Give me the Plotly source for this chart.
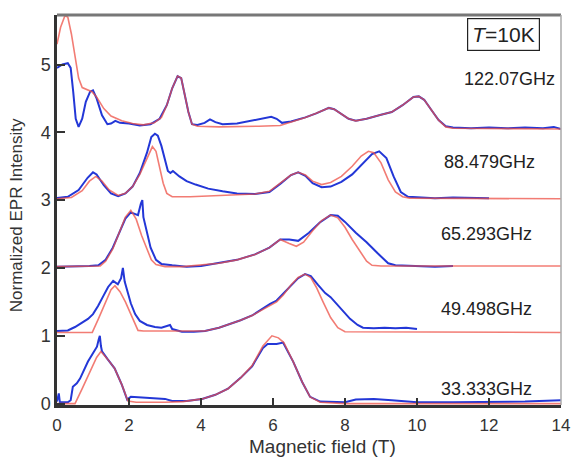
import plotly.graph_objects as go

# ---------------- data ----------------
x_b122 = [0.0,0.15,0.3,0.38,0.45,0.52,0.6,0.7,0.8,0.92,1.0,1.1,1.25,1.4,1.5,1.62,1.75,2.0,2.3,2.6,2.85,3.05,3.2,3.35,3.45,3.55,3.65,3.75,3.9,4.1,4.25,4.4,4.6,5.0,5.4,5.7,5.95,6.1,6.25,6.5,6.9,7.2,7.55,7.7,7.9,8.1,8.3,8.6,9.0,9.3,9.6,9.9,10.05,10.2,10.4,10.6,10.8,11.0,11.5,12.0,12.5,13.0,13.5,13.8,14.0]
y_b122 = [4.95,5.0,5.02,4.95,4.6,4.2,4.08,4.2,4.45,4.6,4.62,4.5,4.25,4.12,4.13,4.17,4.14,4.13,4.1,4.12,4.2,4.4,4.65,4.83,4.8,4.55,4.3,4.12,4.11,4.14,4.19,4.15,4.12,4.13,4.17,4.21,4.23,4.2,4.14,4.16,4.22,4.28,4.36,4.34,4.27,4.2,4.17,4.2,4.26,4.3,4.4,4.52,4.53,4.48,4.33,4.18,4.09,4.07,4.06,4.07,4.06,4.07,4.06,4.08,4.05]
x_r122 = [0.0,0.1,0.22,0.3,0.4,0.5,0.6,0.7,0.85,0.97,1.1,1.3,1.5,1.8,2.1,2.4,2.7,2.9,3.05,3.2,3.35,3.45,3.55,3.65,3.75,3.9,4.5,5.0,5.6,6.2,6.5,6.9,7.2,7.55,7.7,7.9,8.1,8.3,8.6,9.0,9.3,9.6,9.9,10.05,10.2,10.4,10.6,10.8,11.0,14.0]
y_r122 = [5.3,5.55,5.72,5.7,5.45,5.1,4.8,4.66,4.62,4.6,4.52,4.35,4.24,4.17,4.13,4.11,4.14,4.22,4.4,4.65,4.83,4.8,4.55,4.3,4.12,4.09,4.08,4.08,4.09,4.1,4.15,4.22,4.28,4.36,4.34,4.27,4.2,4.17,4.2,4.26,4.3,4.4,4.52,4.53,4.48,4.33,4.18,4.08,4.06,4.05]

x_b88 = [0.0,0.3,0.6,0.85,1.0,1.1,1.3,1.5,1.7,1.9,2.1,2.3,2.5,2.62,2.72,2.8,2.9,3.0,3.08,3.15,3.22,3.4,3.6,3.85,4.2,4.6,5.0,5.5,5.9,6.2,6.5,6.7,6.9,7.1,7.35,7.6,7.9,8.2,8.5,8.75,8.95,9.15,9.35,9.55,9.75,10.0,10.5,11.0,11.5,12.0]
y_b88 = [3.03,3.05,3.15,3.33,3.41,3.38,3.22,3.1,3.06,3.1,3.2,3.4,3.7,3.93,3.98,3.95,3.8,3.6,3.43,3.4,3.43,3.35,3.28,3.23,3.17,3.13,3.1,3.09,3.12,3.24,3.37,3.41,3.36,3.25,3.19,3.2,3.27,3.38,3.55,3.68,3.72,3.62,3.35,3.12,3.05,3.04,3.03,3.04,3.03,3.03]
x_r88 = [0.0,0.4,0.7,0.9,1.08,1.25,1.45,1.7,1.9,2.1,2.3,2.5,2.65,2.75,2.85,2.95,3.05,3.2,3.7,4.2,4.8,5.5,5.9,6.2,6.5,6.7,6.9,7.1,7.35,7.6,7.9,8.2,8.45,8.65,8.8,9.0,9.2,9.4,9.6,9.8,14.0]
y_r88 = [3.02,3.04,3.14,3.28,3.35,3.28,3.15,3.07,3.1,3.2,3.38,3.62,3.79,3.72,3.5,3.25,3.1,3.05,3.05,3.06,3.08,3.09,3.13,3.25,3.37,3.41,3.37,3.28,3.23,3.26,3.35,3.5,3.65,3.72,3.7,3.55,3.3,3.12,3.05,3.03,3.02]

x_b65 = [0.0,0.5,0.9,1.15,1.35,1.55,1.75,1.9,2.05,2.15,2.25,2.33,2.37,2.4,2.5,2.6,2.75,2.9,3.2,3.6,4.0,4.5,5.0,5.5,5.9,6.2,6.45,6.7,7.0,7.3,7.6,7.8,8.0,8.3,8.6,8.9,9.2,9.4,10.0,10.5,11.0]
y_b65 = [2.02,2.02,2.03,2.04,2.12,2.3,2.55,2.73,2.82,2.8,2.78,2.95,3.0,2.75,2.5,2.3,2.12,2.06,2.04,2.02,2.03,2.07,2.12,2.2,2.3,2.42,2.42,2.4,2.52,2.67,2.78,2.77,2.68,2.52,2.38,2.22,2.07,2.04,2.03,2.02,2.03]
x_r65 = [0.0,1.2,1.35,1.55,1.75,1.9,2.05,2.2,2.35,2.5,2.62,2.75,3.0,3.5,4.0,4.5,5.0,5.5,5.9,6.2,6.45,6.65,6.85,7.1,7.35,7.6,7.8,8.0,8.2,8.4,8.6,8.75,9.0,14.0]
y_r65 = [2.02,2.03,2.1,2.28,2.55,2.75,2.85,2.72,2.48,2.28,2.12,2.05,2.02,2.02,2.04,2.07,2.12,2.2,2.3,2.42,2.36,2.32,2.38,2.55,2.7,2.78,2.74,2.6,2.42,2.25,2.1,2.04,2.03,2.03]

x_b49 = [0.0,0.3,0.5,0.7,0.86,1.0,1.14,1.3,1.42,1.56,1.69,1.78,1.83,1.88,1.95,2.05,2.17,2.3,2.5,2.72,2.9,3.05,3.14,3.2,3.47,3.8,4.11,4.5,4.86,5.1,5.42,5.7,5.92,6.1,6.28,6.5,6.7,6.89,7.05,7.25,7.45,7.6,7.85,8.14,8.35,8.5,8.8,9.1,9.4,9.7,10.0]
y_b49 = [1.07,1.08,1.13,1.2,1.25,1.32,1.44,1.6,1.72,1.81,1.76,1.85,2.0,1.8,1.65,1.48,1.32,1.22,1.16,1.13,1.12,1.15,1.16,1.1,1.06,1.06,1.07,1.12,1.18,1.23,1.3,1.4,1.47,1.52,1.62,1.75,1.85,1.91,1.88,1.75,1.63,1.57,1.42,1.25,1.16,1.12,1.11,1.12,1.11,1.12,1.1]
x_r49 = [0.0,0.98,1.15,1.35,1.5,1.61,1.75,1.9,2.05,2.17,2.25,2.4,3.0,3.5,4.11,4.5,4.86,5.1,5.42,5.7,5.92,6.1,6.28,6.5,6.7,6.89,7.05,7.2,7.39,7.6,7.8,8.0,14.0]
y_r49 = [1.05,1.05,1.25,1.5,1.68,1.74,1.65,1.5,1.32,1.2,1.08,1.07,1.07,1.06,1.07,1.12,1.18,1.23,1.3,1.38,1.45,1.5,1.6,1.75,1.86,1.91,1.86,1.72,1.5,1.27,1.12,1.06,1.05]

x_b33 = [0.0,0.05,0.08,0.3,0.38,0.44,0.55,0.64,0.86,1.0,1.11,1.16,1.19,1.22,1.25,1.4,1.6,1.8,1.95,2.05,2.3,2.6,3.0,3.2,3.6,4.03,4.4,4.75,5.1,5.42,5.72,5.85,6.1,6.28,6.56,6.81,7.03,7.31,8.0,8.3,8.8,9.3,10.0,11.0,12.0,13.0,14.0]
y_b33 = [0.03,0.15,0.02,0.02,0.05,0.25,0.3,0.37,0.62,0.74,0.84,0.95,1.0,0.85,0.77,0.66,0.52,0.28,0.06,0.1,0.09,0.08,0.07,0.04,0.04,0.07,0.13,0.22,0.38,0.55,0.82,0.88,0.88,0.9,0.62,0.32,0.1,0.03,0.02,0.06,0.07,0.05,0.02,0.02,0.02,0.03,0.05]
x_r33 = [0.0,0.5,0.7,0.9,1.1,1.22,1.4,1.6,1.8,1.97,2.2,3.0,3.5,4.03,4.4,4.75,5.1,5.42,5.72,5.97,6.15,6.3,6.56,6.81,7.03,7.31,8.0,14.0]
y_r33 = [0.0,0.0,0.22,0.45,0.68,0.77,0.66,0.52,0.28,0.04,0.02,0.02,0.03,0.07,0.13,0.22,0.38,0.56,0.85,1.0,0.97,0.9,0.62,0.32,0.1,0.02,0.0,0.0]

freq_labels = ["122.07GHz", "88.479GHz", "65.293GHz", "49.498GHz", "33.333GHz"]
label_x = [12.56, 12.0, 11.94, 11.94, 11.94]
label_y = [4.78, 3.56, 2.5, 1.40, 0.22]
x_ticks = [0, 2, 4, 6, 8, 10, 12, 14]
y_ticks = [0, 1, 2, 3, 4, 5]

exp_series = [(x_b122, y_b122), (x_b88, y_b88), (x_b65, y_b65), (x_b49, y_b49), (x_b33, y_b33)]
sim_series = [(x_r122, y_r122), (x_r88, y_r88), (x_r65, y_r65), (x_r49, y_r49), (x_r33, y_r33)]

BLUE = "rgb(35,55,215)"
RED = "rgba(238,80,70,0.75)"
FONT = "Liberation Sans, Arial, sans-serif"

fig = go.Figure()
for xs, ys in exp_series:
    fig.add_trace(go.Scatter(x=xs, y=ys, mode="lines", line=dict(color=BLUE, width=2),
                             showlegend=False, hoverinfo="skip"))
for xs, ys in sim_series:
    fig.add_trace(go.Scatter(x=xs, y=ys, mode="lines", line=dict(color=RED, width=1.6),
                             showlegend=False, hoverinfo="skip"))

for t, lx, ly in zip(freq_labels, label_x, label_y):
    fig.add_annotation(x=lx, y=ly, xref="x", yref="y", text=t, showarrow=False,
                       font=dict(size=18, color="#222", family=FONT))

fig.add_annotation(x=12.39, y=5.44, xref="x", yref="y", text="<i>T</i>=10K", showarrow=False,
                   font=dict(size=21, color="#222", family=FONT),
                   bordercolor="#222", borderwidth=1.2, borderpad=4, bgcolor="white")

# axis titles
fig.add_annotation(x=0.526, y=-0.107, xref="paper", yref="paper", text="Magnetic field (T)",
                   showarrow=False, xanchor="center", yanchor="middle",
                   font=dict(size=19, color="#333", family=FONT))
fig.add_annotation(x=-0.081, y=0.487, xref="paper", yref="paper", text="Normalized EPR Intensity",
                   showarrow=False, xanchor="center", yanchor="middle", textangle=-90,
                   font=dict(size=17, color="#333", family=FONT))

# top / right frame
fig.add_shape(type="line", xref="paper", yref="paper", x0=0, x1=1, y0=1, y1=1,
              line=dict(color="#777", width=3))
fig.add_shape(type="line", xref="paper", yref="paper", x0=1, x1=1, y0=0, y1=1,
              line=dict(color="#aaa", width=1.5))

fig.update_xaxes(range=[0, 14], tickvals=x_ticks, ticks="inside", ticklen=7, tickwidth=1.5,
                 tickcolor="#333", showline=True, linecolor="#333", linewidth=2.5,
                 showgrid=False, zeroline=False, automargin=False, ticklabelstandoff=3,
                 tickfont=dict(size=17, color="#333", family=FONT))
fig.update_yaxes(range=[-0.02, 5.73], tickvals=y_ticks, ticks="inside", ticklen=8, tickwidth=1.5,
                 tickcolor="#333", showline=True, linecolor="#333", linewidth=2.5,
                 showgrid=False, zeroline=False, automargin=False,
                 tickfont=dict(size=18, color="#333", family=FONT))

fig.update_layout(width=572, height=457, margin=dict(l=57, r=11, t=15, b=52),
                  plot_bgcolor="white", paper_bgcolor="white")

fig.write_html("out.html", config={"displayModeBar": False},
               post_script="document.body.style.margin='0';")
